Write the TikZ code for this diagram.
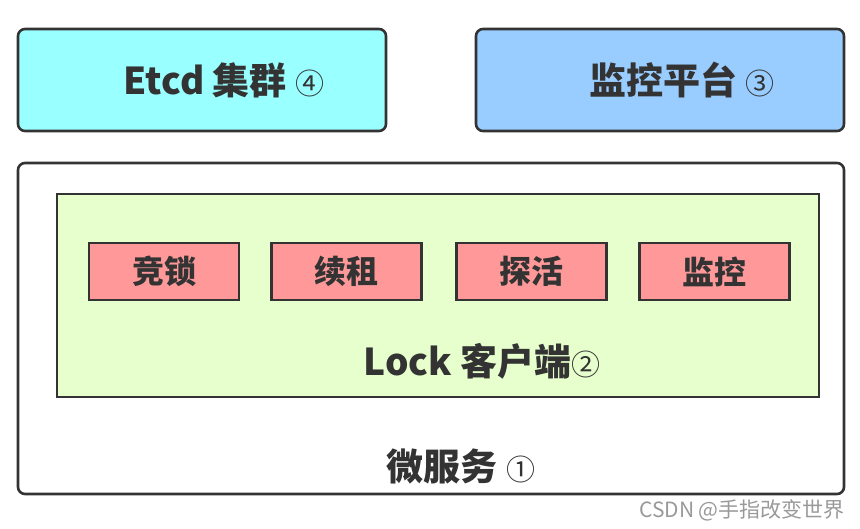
\documentclass[tikz,border=0pt]{standalone}
\usepackage{fontspec}
\setmainfont{Noto Sans CJK SC}
\usepackage{tikz}
\definecolor{lineclr}{HTML}{333333}
\definecolor{etcdclr}{HTML}{99FFFF}
\definecolor{monclr}{HTML}{99CCFF}
\definecolor{lockclr}{HTML}{E6FFCC}
\definecolor{partclr}{HTML}{FF9999}
\newcommand{\circnum}[1]{{\mdseries\fontsize{29}{32}\selectfont #1}}

\begin{document}
\begin{tikzpicture}[x=1pt,y=-1pt,
          box/.style={draw=lineclr,line width=2.6pt,inner sep=0pt},
          topbox/.style={box,rounded corners=7pt,minimum width=368pt,minimum height=102pt},
          partbox/.style={box,fill=partclr,minimum width=150pt,minimum height=57pt,
            font=\bfseries\fontsize{32}{34}\selectfont,text=lineclr},
          title/.style={inner sep=0pt,text=lineclr,font=\bfseries\fontsize{37}{40}\selectfont}]
        \useasboundingbox (0,0) rectangle (860,529);
        % top row
        \node[topbox,fill=etcdclr] (etcd) at (202,80)  {};
        \node[topbox,fill=monclr]  (mon)  at (660,80)  {};
        \node[title] (etcdtxt) at (224,80) {Etcd 集群 \circnum{④}};
        \node[title] (montxt)  at (682,80) {监控平台 \circnum{③}};
        % micro service with lock client
        \node[box,fill=white,rounded corners=7pt,minimum width=826pt,
          minimum height=331pt] (svc) at (431,328.5) {};
        \node[box,fill=lockclr,minimum width=762pt,minimum height=203pt]
          (lock) at (438,295.5) {};
        \node[partbox] (p1) at (164,271.5)   {竞锁};
        \node[partbox] (p2) at (346.5,271.5) {续租};
        \node[partbox] (p3) at (531.5,271.5) {探活};
        \node[partbox] (p4) at (714.5,271.5) {监控};
        \node[title] (locktxt) at (482,361) {Lock 客户端\circnum{②}};
        \node[title] (svctxt)  at (461,466) {微服务 \circnum{①}};
        % watermark
        \node[anchor=east,inner sep=0pt,text=black!40,
          font=\fontsize{21}{23}\selectfont] (mark) at (845,510) {CSDN @手指改变世界};
      \end{tikzpicture}
\end{document}
